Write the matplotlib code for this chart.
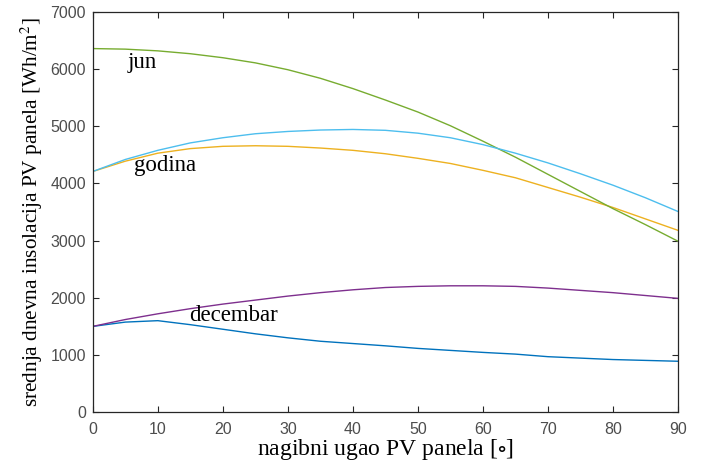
import numpy as np
import matplotlib
matplotlib.use("Agg")
import matplotlib.pyplot as plt

plt.rcParams["mathtext.fontset"] = "stix"

# tilt angle in degrees
ugao = [0, 5, 10, 15, 20, 25, 30, 35, 40, 45, 50, 55, 60, 65, 70, 75, 80, 85, 90]

# daily insolation values [Wh/m2]
jun = [6360, 6350, 6320, 6270, 6200, 6110, 5990, 5840, 5660, 5460, 5250, 5010,
       4740, 4460, 4160, 3860, 3560, 3280, 2990]
cyan_line = [4210, 4420, 4580, 4710, 4800, 4870, 4910, 4935, 4945, 4930, 4880, 4800,
             4680, 4530, 4360, 4170, 3970, 3750, 3510]
godina = [4210, 4390, 4530, 4610, 4650, 4660, 4650, 4620, 4580, 4520, 4440, 4350,
          4230, 4100, 3930, 3760, 3580, 3380, 3180]
purple_line = [1500, 1620, 1720, 1810, 1890, 1960, 2030, 2090, 2140, 2180, 2200, 2210,
               2210, 2200, 2170, 2130, 2090, 2040, 1990]
decembar = [1500, 1575, 1600, 1530, 1450, 1370, 1300, 1240, 1200, 1160, 1115, 1080,
            1045, 1015, 970, 945, 920, 905, 890]

fig = plt.figure(figsize=(7.03, 4.61), dpi=100)
ax = fig.add_axes([0.132, 0.106, 0.8324, 0.868])

ax.plot(ugao, decembar, color="#0072BD", lw=1.0)
ax.plot(ugao, godina, color="#EDB120", lw=1.0)
ax.plot(ugao, purple_line, color="#7E2F8E", lw=1.0)
ax.plot(ugao, jun, color="#77AC30", lw=1.0)
ax.plot(ugao, cyan_line, color="#4DBEEE", lw=1.0)

ax.set_xlim(0, 90)
ax.set_ylim(0, 7000)
ax.set_xticks(range(0, 91, 10))
ax.set_yticks(range(0, 7001, 1000))

ax.tick_params(direction="in", top=True, right=True, labelsize=11.5,
               labelcolor="#4d4d4d", color="#262626", length=4)
ax.tick_params(axis="x", pad=7)
ax.tick_params(axis="y", pad=5)
for lab in ax.get_xticklabels() + ax.get_yticklabels():
    lab.set_family("Liberation Sans")
for s in ax.spines.values():
    s.set_color("#262626")
    s.set_linewidth(0.9)

ax.set_xlabel(r"nagibni ugao PV panela [$\circ$]", family="Liberation Serif",
              fontsize=17, labelpad=0)
ax.set_ylabel(r"srednja dnevna insolacija PV panela [Wh/m$^2$]",
              family="Liberation Serif", fontsize=15.3, labelpad=4)

ax.text(5.4, 6125, "jun", family="Liberation Serif", fontsize=16.5, va="center")
ax.text(6.3, 4320, "godina", family="Liberation Serif", fontsize=16.5, va="center")
ax.text(14.8, 1690, "decembar", family="Liberation Serif", fontsize=16.5, va="center")

fig.savefig("out.png", dpi=100)
